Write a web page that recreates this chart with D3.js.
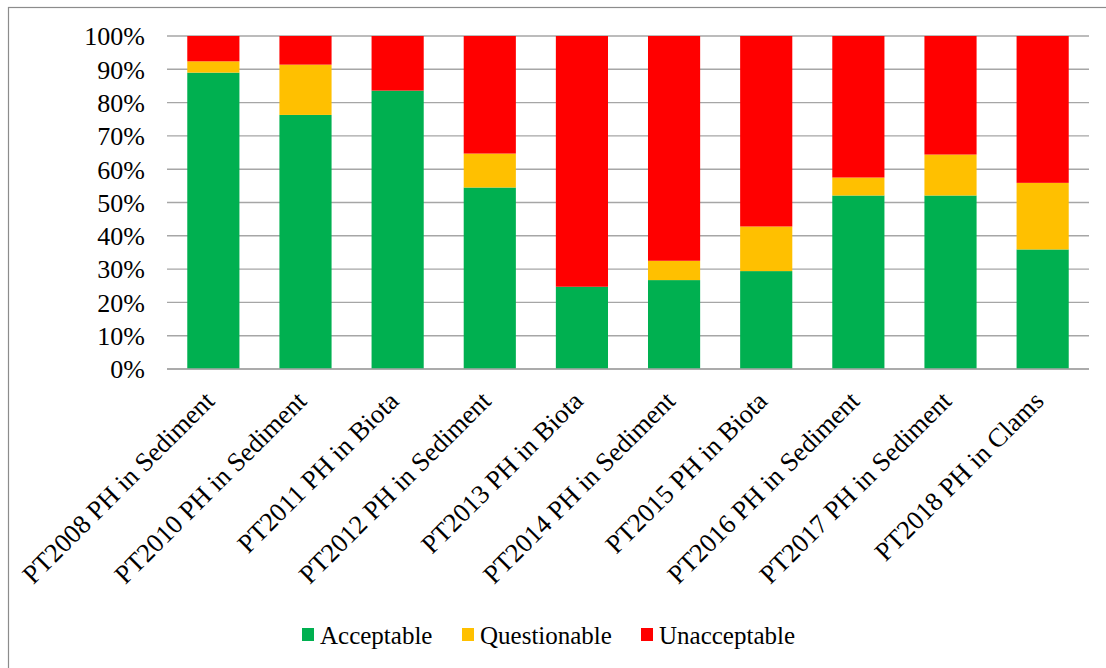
<!DOCTYPE html>
<html>
<head>
<meta charset="utf-8">
<script src="https://cdn.jsdelivr.net/npm/d3@7"></script>
<style>
  html, body { margin: 0; padding: 0; background: #fff; }
  svg { display: block; }
</style>
</head>
<body>
<svg id="chart" width="1106" height="668" font-family="'Liberation Serif', 'Times New Roman', serif"></svg>
<script>
// Proficiency test results per round (percent of participants)
const categories = [
  "PT2008 PH in Sediment", "PT2010 PH in Sediment", "PT2011 PH in Biota",
  "PT2012 PH in Sediment", "PT2013 PH in Biota", "PT2014 PH in Sediment",
  "PT2015 PH in Biota", "PT2016 PH in Sediment", "PT2017 PH in Sediment",
  "PT2018 PH in Clams"
];
const acceptable    = [89.0, 76.3, 83.6, 54.5, 24.7, 26.7, 29.4, 52.1, 52.1, 35.9];
const questionable  = [3.4, 15.1, 0.0, 10.2, 0.0, 5.8, 13.4, 5.4, 12.3, 20.0];
const unacceptable  = [7.6, 8.6, 16.4, 35.3, 75.3, 67.5, 57.2, 42.5, 35.6, 44.1];
const seriesNames   = ["Acceptable", "Questionable", "Unacceptable"];
const seriesColors  = ["#00B050", "#FFC000", "#FF0000"];
const yTicks        = [0, 10, 20, 30, 40, 50, 60, 70, 80, 90, 100];

const serif = "'Liberation Serif', 'Times New Roman', serif";
const svg = d3.select("#chart");

// outer chart frame
svg.append("rect")
  .attr("x", 8.5).attr("y", 7.5)
  .attr("width", 1120).attr("height", 680)
  .attr("fill", "none").attr("stroke", "#8c8c8c").attr("stroke-width", 1.2);

const plot = { left: 167, right: 1089, top: 36, bottom: 369 };

const x = d3.scaleBand()
  .domain(categories)
  .range([plot.left, plot.right])
  .paddingInner(0.434)
  .paddingOuter(0.22);

const y = d3.scaleLinear().domain([0, 100]).range([plot.bottom, plot.top]);

// horizontal gridlines
svg.append("g")
  .selectAll("line")
  .data(yTicks)
  .join("line")
  .attr("x1", plot.left).attr("x2", plot.right)
  .attr("y1", d => y(d)).attr("y2", d => y(d))
  .attr("stroke", "#a6a6a6").attr("stroke-width", 1.4);

// y axis labels
const yAxis = d3.axisLeft(y).tickValues(yTicks).tickFormat(d => d + "%").tickSize(0).tickPadding(22);
const gy = svg.append("g").attr("transform", `translate(${plot.left},0)`).call(yAxis)
  .attr("font-family", serif).attr("font-size", 26);
gy.select(".domain").remove();
gy.selectAll("text")
  .attr("fill", "#000")
  .attr("dy", "0.34em");

// stacked bars
const table = categories.map((c, i) => ({
  category: c,
  Acceptable: acceptable[i],
  Questionable: questionable[i],
  Unacceptable: unacceptable[i]
}));
const stack = d3.stack().keys(seriesNames)(table);

svg.append("g")
  .selectAll("g")
  .data(stack)
  .join("g")
  .attr("fill", (d, i) => seriesColors[i])
  .selectAll("rect")
  .data(d => d)
  .join("rect")
  .attr("x", d => x(d.data.category))
  .attr("width", x.bandwidth())
  .attr("y", d => y(d[1]))
  .attr("height", d => y(d[0]) - y(d[1]));

// baseline
svg.append("line")
  .attr("x1", plot.left).attr("x2", plot.right)
  .attr("y1", y(0)).attr("y2", y(0))
  .attr("stroke", "#a6a6a6").attr("stroke-width", 1.4);

// rotated category labels
svg.append("g")
  .attr("font-family", serif)
  .attr("font-size", 26.5)
  .selectAll("text")
  .data(categories)
  .join("text")
  .attr("transform", d => `translate(${x(d) + x.bandwidth() / 2 - 4},${plot.bottom + 27}) rotate(-45)`)
  .attr("text-anchor", "end")
  .attr("dy", "0.35em")
  .attr("fill", "#000")
  .text(d => d);

// legend
const legendX = [302, 462, 641];
const legend = svg.append("g")
  .attr("font-family", serif)
  .attr("font-size", 25)
  .selectAll("g")
  .data(seriesNames)
  .join("g")
  .attr("transform", (d, i) => `translate(${legendX[i]},635)`);
legend.append("rect")
  .attr("x", 0).attr("y", -7)
  .attr("width", 12).attr("height", 13)
  .attr("fill", (d, i) => seriesColors[i]);
legend.append("text")
  .attr("x", 18).attr("y", 0)
  .attr("dy", "0.35em")
  .attr("fill", "#000")
  .text(d => d);
</script>
</body>
</html>
